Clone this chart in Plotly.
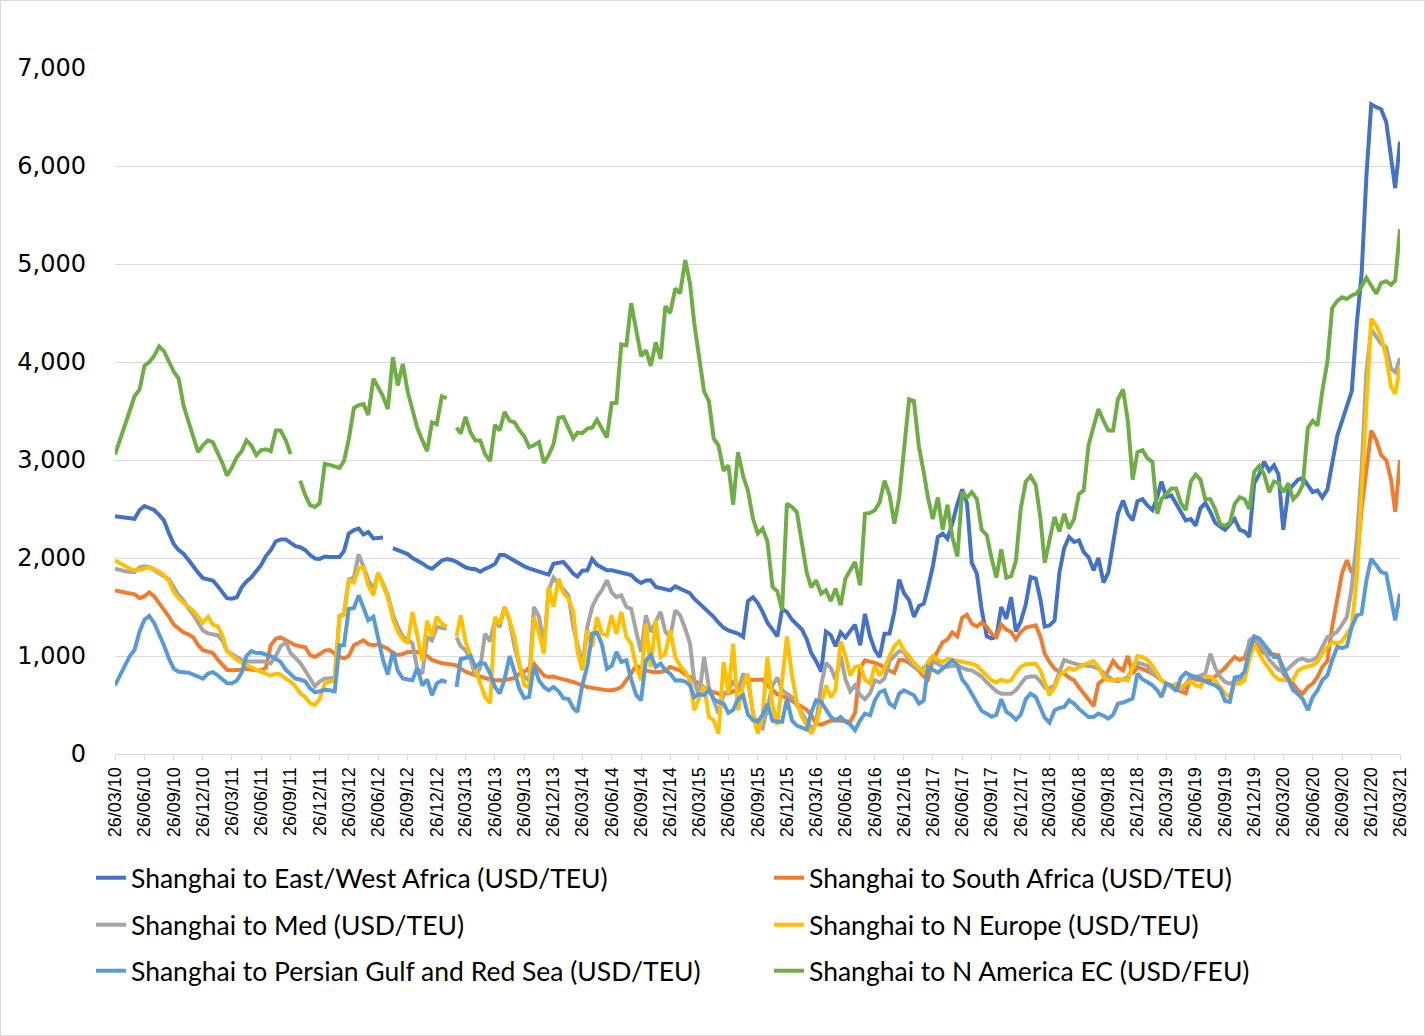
import plotly.graph_objects as go
from datetime import date

# Semi-monthly observation dates (11th and 26th), 26/03/2010 .. 26/03/2021
dates = []
for yr in range(2010, 2022):
    for mo in range(1, 13):
        for dy in (11, 26):
            d = date(yr, mo, dy)
            if date(2010, 3, 26) <= d <= date(2021, 3, 26):
                dates.append(d.isoformat())

east_west_africa = [
    2425, 2420, 2415, 2410, 2400, 2490, 2530, 2510, 2490, 2440,
    2384, 2250, 2140, 2080, 2044, 1980, 1910, 1850, 1795, 1780,
    1770, 1710, 1640, 1590, 1585, 1600, 1700, 1760, 1800, 1860,
    1930, 2020, 2080, 2170, 2190, 2190, 2150, 2120, 2110, 2080,
    2030, 1995, 1990, 2015, 2010,
    2010, 2010, 2070, 2250, 2285, 2300, 2240, 2265, 2200, 2200,
    2210, None, 2100, 2080, 2060, 2040, 2000, 1975, 1945, 1910,
    1890, 1930, 1975, 1990, 1980, 1960, 1930, 1905, 1890, 1885,
    1860, 1890, 1910, 1940, 2030, 2030, 2000, 1970, 1945, 1915, 1895, 1875, 1860, 1845,
    1830, 1940, 1950, 1960, 1900, 1840, 1810, 1870, 1875, 1990,
    1930, 1900, 1875, 1875, 1865, 1850, 1835, 1825, 1775, 1745,
    1770, 1772, 1705, 1690, 1680, 1670, 1710, 1690, 1660, 1640,
    1585, 1540, 1500, 1450, 1400, 1340, 1290, 1260, 1240, 1228,
    1195, 1560, 1600, 1540,
    1450, 1340, 1270, 1200, 1480, 1450, 1370, 1320, 1270, 1170,
    1030, 950, 840, 1250, 1215, 1100, 1240, 1190, 1250, 1320,
    1110, 1430, 1200, 1060, 990, 1228, 1230, 1450, 1780, 1640,
    1570, 1400, 1510, 1534, 1700, 1910, 2214, 2248, 2197, 2350,
    2550, 2700, 2560, 1950,
    1840, 1470, 1200, 1180, 1194, 1500, 1380, 1600, 1250, 1350,
    1530, 1806, 1790, 1570, 1300, 1313, 1364, 1850, 2100, 2214,
    2163, 2180, 2061, 2010, 1874, 2000, 1750, 1850, 2150, 2452,
    2588, 2450, 2384, 2580, 2600, 2537, 2490, 2620, 2780, 2622,
    2639, 2554, 2480, 2384,
    2398, 2330, 2507, 2562, 2470, 2360, 2320, 2288, 2343, 2398,
    2288, 2270, 2215, 2763, 2854, 2982, 2890, 2945, 2854, 2288,
    2690, 2745, 2800, 2817, 2745, 2672, 2690, 2617, 2700, 2950,
    3250, 3400, 3550, 3700, 4400, 4900, 5900, 6630, 6600, 6580,
    6450, 6048, 5774, 6249,
]

south_africa = [
    1670, 1660, 1650, 1640, 1630, 1590, 1610, 1650, 1610, 1540,
    1480, 1400, 1320, 1280, 1240, 1220, 1190, 1110, 1060, 1045,
    1030, 960, 900, 860, 855, 855, 860, 870, 860, 855,
    855, 880, 1110, 1175, 1190, 1160, 1130, 1110, 1100, 1090,
    1010, 990, 1020, 1055, 1060,
    1020, 990, 975, 1000, 1110, 1140, 1160, 1120, 1110, 1119,
    1100, 1075, 1030, 1010, 1020, 1041, 1041, 1041, 1020, 1000,
    960, 940, 925, 920, 910, 905, 870, 840, 820, 803,
    790, 770, 760, 752, 752, 752, 765, 775, 820, 840, 880, 920, 860, 800,
    785, 790, 775, 765, 752, 735, 718, 700, 684, 675,
    667, 655, 650, 650, 660, 684, 752, 820, 905, 870,
    854, 840, 837, 837, 850, 888, 870, 854, 810, 786,
    750, 718, 680, 650, 630, 616, 616, 620, 640, 650,
    752, 752, 755, 759,
    760, 700, 650, 610, 590, 575, 540, 510, 480, 450,
    400, 310, 300, 320, 340, 344, 340, 335, 330, 420,
    880, 956, 945, 930, 910, 880, 850, 830, 960, 956,
    930, 890, 850, 790, 760, 960, 1050, 1140, 1170, 1240,
    1200, 1390, 1420, 1330,
    1300, 1340, 1296, 1228, 1194, 1320, 1270, 1245, 1170, 1245,
    1290, 1300, 1313, 1194, 1024, 939, 870, 837, 820, 780,
    752, 680, 620, 560, 490, 718, 760, 854, 950, 888,
    854, 1000, 820, 888, 860, 845, 820, 786, 750, 718,
    680, 660, 640, 620,
    786, 760, 752, 752, 752, 790, 830, 880, 939, 990,
    960, 980, 1126, 1160, 1075, 1030, 1024, 1015, 1007, 820,
    752, 718, 650, 616, 684, 718, 786, 888, 950, 1300,
    1600, 1850, 1978, 1850, 1950, 2500, 2900, 3300, 3200, 3050,
    3000, 2800, 2471, 3000,
]

med = [
    1890, 1875, 1865, 1860, 1855, 1905, 1915, 1910, 1880, 1840,
    1820, 1780, 1700, 1620, 1570, 1480, 1420, 1330, 1260, 1230,
    1220, 1210, 1150, 1050, 1020, 990, 960, 945, 945, 950,
    955, 945, 925, 1000, 1100, 1140, 1030, 980, 930, 850,
    760, 690, 740, 770, 770,
    780, 1410, 1430, 1780, 1800, 2040, 1920, 1780, 1680, 1840,
    1740, 1620, 1420, 1300, 1200, 1160, 1130, 870, 820, 1194,
    1160, 1296, 1290, 1279, None, 1190, 1100, 1060, 960, 790,
    880, 1228, 1150, 1364, 1296, 1500, 1360, 1100, 900, 786, 752, 1500, 1398, 1100,
    1670, 1800, 1740, 1680, 1619, 1300, 1100, 905, 1300, 1500,
    1600, 1670, 1772, 1650, 1600, 1619, 1500, 1483, 1245, 1041,
    1415, 1245, 1350, 1449, 1245, 1194, 1466, 1415, 1279, 1126,
    752, 582, 990, 684, 548, 412, 616, 640, 752, 640,
    820, 752, 412, 276,
    260, 480, 700, 780, 650, 616, 580, 500, 420, 340,
    260, 300, 700, 930, 880, 760, 1000, 760, 640, 700,
    600, 560, 620, 752, 730, 770, 950, 1000, 1050, 1040,
    950, 890, 860, 880, 920, 950, 920, 890, 890, 900,
    905, 880, 860, 854,
    820, 790, 730, 680, 640, 616, 616, 616, 650, 720,
    780, 790, 790, 740, 680, 670, 700, 840, 960, 940,
    922, 910, 905, 900, 890, 871, 830, 790, 752, 740,
    760, 786, 880, 930, 920, 900, 830, 780, 750, 718,
    690, 670, 660, 700,
    800, 786, 800, 820, 1024, 880, 786, 735, 718, 740,
    752, 780, 1160, 1194, 1126, 1058, 960, 900, 860, 840,
    870, 920, 960, 973, 950, 960, 990, 1092, 1194, 1211,
    1250, 1320, 1400, 1700, 2200, 2900, 3900, 4332, 4250, 4186,
    4150, 3931, 3894, 4040,
]

n_europe = [
    1975, 1950, 1920, 1890, 1875, 1880, 1895, 1905, 1890, 1860,
    1830, 1760, 1650, 1590, 1540, 1500, 1460, 1400, 1340, 1400,
    1320, 1300, 1200, 1050, 1000, 960, 930, 905, 880, 860,
    840, 820, 800, 820, 810, 770, 740, 690, 620, 580,
    520, 500, 560, 720, 740,
    750, 1400, 1420, 1772, 1750, 1900, 1900, 1720, 1620, 1850,
    1720, 1600, 1380, 1250, 1170, 1130, 1450, 1200, 950, 1360,
    1200, 1400, 1330, 1296, None, 1200, 1415, 1150, 1000, 880,
    720, 582, 520, 1398, 1330, 1500, 1364, 1194, 900, 700, 680, 1398, 1228, 1024,
    1704, 1500, 1789, 1640, 1585, 1450, 1050, 854, 1262, 1092,
    1398, 1228, 1210, 1415, 1228, 1449, 1194, 1126, 888, 752,
    1330, 888, 1364, 990, 1024, 1262, 990, 900, 840, 752,
    446, 582, 700, 378, 344, 208, 939, 616, 1126, 446,
    700, 820, 400, 208,
    400, 990, 500, 300, 718, 1200, 800, 530, 380, 300,
    210, 300, 500, 700, 580, 650, 1150, 1000, 800, 888,
    900, 760, 720, 900, 800, 880, 1000, 1100, 1150, 1058,
    1000, 930, 880, 830, 940, 1000, 960, 940, 970, 960,
    950, 940, 930, 922,
    900, 850, 800, 752, 730, 760, 740, 750, 830, 890,
    915, 922, 922, 850, 720, 600, 680, 800, 837, 880,
    860, 890, 910, 930, 950, 888, 786, 752, 752, 765,
    760, 752, 880, 1000, 990, 960, 900, 820, 752, 720,
    684, 720, 680, 720,
    735, 701, 684, 786, 790, 752, 684, 616, 582, 718,
    718, 752, 956, 1126, 1024, 939, 870, 800, 760, 752,
    752, 760, 850, 880, 888, 905, 939, 1024, 1092, 1143,
    1126, 1150, 1228, 1300, 1800, 2700, 3700, 4442, 4369, 4259,
    4050, 3748, 3675, 3949,
]

persian_gulf = [
    700, 800, 900, 1000, 1060, 1250, 1370, 1410, 1340, 1230,
    1110, 970, 870, 840, 840, 830, 810, 790, 770, 820,
    835, 800, 760, 725, 720, 750, 830, 1000, 1050, 1030,
    1030, 1020, 1000, 970, 940, 860, 810, 770, 760, 740,
    670, 630, 640, 655, 650,
    640, 1109, 1109, 1480, 1490, 1619, 1500, 1364, 1400, 1194,
    960, 810, 1050, 850, 770, 760, 752, 880, 700, 760,
    600, 720, 750, 735, None, 684, 970, 980, 1000, 888,
    930, 920, 820, 684, 616, 760, 1000, 840, 660, 570, 582, 900, 750, 684,
    650, 684, 640, 570, 560, 470, 429, 700, 900, 1230,
    1240, 1126, 870, 900, 1041, 939, 956, 760, 600, 548,
    950, 1010, 888, 922, 854, 820, 750, 752, 740, 700,
    580, 610, 600, 650, 560, 531, 514, 420, 450, 560,
    600, 400, 344, 330,
    400, 510, 340, 330, 330, 560, 340, 290, 270, 250,
    420, 548, 531, 450, 380, 344, 378, 330, 300, 242,
    344, 412, 395, 548, 630, 650, 514, 480, 616, 650,
    620, 600, 514, 548, 888, 860, 830, 870, 920, 956,
    905, 760, 700, 616,
    540, 440, 410, 380, 400, 560, 430, 400, 350, 400,
    560, 616, 582, 470, 370, 320, 446, 470, 480, 548,
    514, 460, 420, 378, 378, 412, 390, 361, 400, 514,
    525, 540, 565, 820, 760, 735, 700, 650, 582, 718,
    700, 640, 780, 830,
    800, 786, 770, 740, 718, 701, 660, 540, 531, 780,
    790, 837, 1050, 1200, 1180, 1120, 1050, 990, 990, 880,
    752, 650, 610, 560, 446, 582, 650, 752, 803, 960,
    1092, 1080, 1100, 1296, 1415, 1432, 1772, 1993, 1925, 1857,
    1840, 1568, 1364, 1636,
]

n_america_ec = [
    3055, 3200, 3347, 3500, 3650, 3720, 3960, 4000, 4060, 4160,
    4110, 4000, 3900, 3830, 3560, 3390, 3250, 3080, 3150, 3200,
    3180, 3070, 2960, 2840, 2920, 3030, 3090, 3200, 3150, 3050,
    3100, 3110, 3090, 3300, 3300, 3200, 3060, None, 2790, 2640,
    2540, 2520, 2560, 2960, 2950,
    2930, 2920, 2990, 3210, 3530, 3560, 3570, 3460, 3830, 3740,
    3650, 3520, 4050, 3760, 3980, 3700, 3500, 3330, 3200, 3091,
    3383, 3365, 3650, 3630, None, 3330, 3270, 3440, 3280, 3200,
    3200, 3060, 2990, 3360, 3300, 3490, 3400, 3385, 3300, 3240, 3130, 3150, 3182, 2970,
    3050, 3160, 3430, 3438, 3330, 3220, 3280, 3274, 3320, 3329,
    3410, 3320, 3230, 3580, 3584, 4180, 4170, 4600, 4300, 4060,
    4120, 3960, 4200, 4030, 4570, 4500, 4750, 4700, 5040, 4800,
    4400, 4080, 3700, 3600, 3220, 3150, 2890, 2945, 2544, 3080,
    2836, 2690, 2400, 2250,
    2300, 2170, 1704, 1660, 1466, 2554, 2520, 2469, 2150, 1850,
    1700, 1772, 1636, 1670, 1560, 1687, 1520, 1790, 1874, 1960,
    1720, 2452, 2460, 2486, 2570, 2790, 2640, 2350, 2617, 3128,
    3620, 3602, 3128, 2872, 2617, 2398, 2617, 2288, 2544, 2215,
    2015, 2672, 2617, 2672,
    2600, 2288, 2233, 1996, 1800, 2088, 1800, 1814, 1970, 2500,
    2780, 2836, 2745, 2400, 1950, 2180, 2420, 2270, 2452, 2300,
    2400, 2653, 2690, 3150, 3329, 3520, 3400, 3300, 3300, 3620,
    3720, 3400, 2800, 3080, 3100, 3020, 2980, 2450, 2600, 2653,
    2708, 2708, 2560, 2489,
    2781, 2850, 2800, 2600, 2600, 2500, 2343, 2330, 2360, 2550,
    2620, 2600, 2500, 2880, 2940, 2854, 2672, 2780, 2763, 2672,
    2763, 2600, 2650, 2745, 3329, 3400, 3350, 3700, 4004, 4550,
    4624, 4660, 4642, 4679, 4700, 4770, 4860, 4780, 4697, 4807,
    4825, 4788, 4830, 5354,
]

series = [
    ("Shanghai to East/West Africa (USD/TEU)", east_west_africa, "#4472C4"),
    ("Shanghai to South Africa (USD/TEU)", south_africa, "#ED7D31"),
    ("Shanghai to Med (USD/TEU)", med, "#A5A5A5"),
    ("Shanghai to N Europe (USD/TEU)", n_europe, "#FFC000"),
    ("Shanghai to Persian Gulf and Red Sea (USD/TEU)", persian_gulf, "#5B9BD5"),
    ("Shanghai to N America EC (USD/FEU)", n_america_ec, "#70AD47"),
]

W, H = 1425, 1036
L, R, T, B = 115, 25, 68, 282
pw, ph = W - L - R, H - T - B


def px_x(x):
    return (x - L) / pw


def px_y(y):
    return (H - B - y) / ph


# one legend per entry: 2 columns x 3 rows under the axis
legend_ids = ["legend", "legend2", "legend3", "legend4", "legend5", "legend6"]
col_x = [91, 769]
row_y = [878, 925, 971]

fig = go.Figure()
legend_layout = {}
for k, (name, vals, col) in enumerate(series):
    lid = legend_ids[k]
    fig.add_trace(go.Scatter(
        x=dates, y=vals, name=name, mode="lines",
        line=dict(color=col, width=4),
        legend=lid, hoverinfo="x+y+name",
    ))
    legend_layout[lid] = dict(
        orientation="h", xanchor="left", yanchor="middle",
        x=px_x(col_x[k % 2]), y=px_y(row_y[k // 2]),
        font=dict(family="Lato", size=26.5, color="#000000"),
        bgcolor="rgba(0,0,0,0)", borderwidth=0,
    )

fig.update_layout(
    width=W, height=H,
    margin=dict(l=L, r=R, t=T, b=B),
    paper_bgcolor="white", plot_bgcolor="white",
    showlegend=True,
    xaxis=dict(
        type="date",
        range=["2010-03-26", "2021-03-26"],
        tick0="2010-03-26", dtick="M3",
        tickformat="%d/%m/%y", tickangle=-90,
        tickfont=dict(family="Liberation Sans", size=18, color="#000000"),
        showgrid=False, showline=True, linecolor="#D9D9D9", linewidth=1,
        ticks="outside", ticklen=5, tickcolor="#D9D9D9",
        zeroline=False,
    ),
    yaxis=dict(
        range=[0, 7000], dtick=1000, tickformat=",d",
        tickfont=dict(family="DejaVu Sans", size=24, color="#000000"),
        showgrid=True, gridcolor="#D9D9D9", gridwidth=1,
        zeroline=False, showline=False, ticks="",
        ticklabelstandoff=28,
    ),
    shapes=[dict(
        type="rect", xref="paper", yref="paper",
        x0=px_x(0.5), x1=px_x(W - 0.5), y0=px_y(H - 0.5), y1=px_y(0.5),
        line=dict(color="#D9D9D9", width=1), fillcolor="rgba(0,0,0,0)",
        layer="below",
    )],
    **legend_layout,
)

fig.write_html(
    "out.html",
    config={"displayModeBar": False},
    post_script="document.body.style.margin='0';document.body.style.overflow='hidden';",
)
